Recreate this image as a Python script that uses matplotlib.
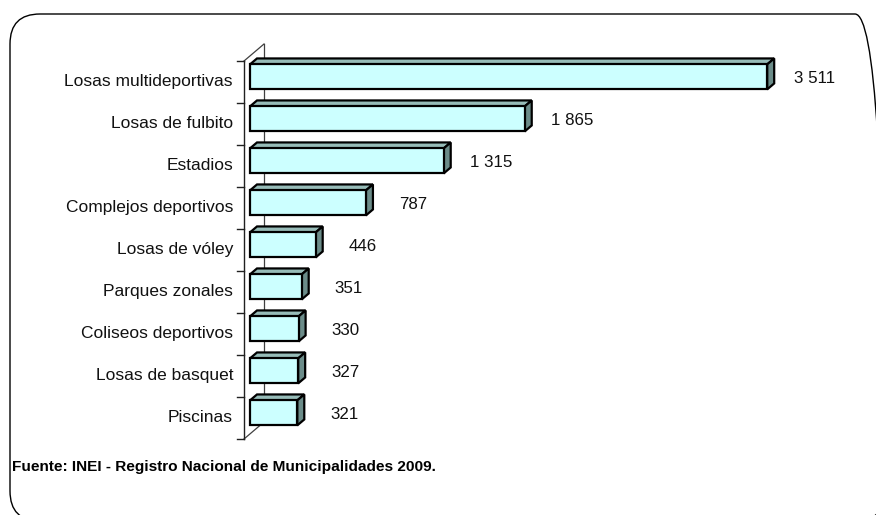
import matplotlib
matplotlib.use("Agg")
import matplotlib.pyplot as plt
from matplotlib.patches import Polygon, FancyBboxPatch

categories = ["Losas multideportivas", "Losas de fulbito", "Estadios",
              "Complejos deportivos", "Losas de vóley", "Parques zonales",
              "Coliseos deportivos", "Losas de basquet", "Piscinas"]
values = [3511, 1865, 1315, 787, 446, 351, 330, 327, 321]
value_labels = ["3 511", "1 865", "1 315", "787", "446", "351", "330", "327", "321"]
source = "Fuente: INEI - Registro Nacional de Municipalidades 2009."

FRONT = "#CCFFFF"
TOP = "#97BCB8"
SIDE = "#6B8C89"

plt.rcParams['font.family'] = ['Liberation Sans', 'DejaVu Sans']

W, H, DPI = 876, 515, 100
fig = plt.figure(figsize=(W / DPI, H / DPI), dpi=DPI)

# plot area in pixels (front plane of the 3D box)
left_px, right_px, top_px, bot_px = 244, 854, 61, 439
ax = fig.add_axes([left_px / W, 1 - bot_px / H, (right_px - left_px) / W, (bot_px - top_px) / H])
n = len(categories)
xmax = 4141
ax.set_xlim(0, xmax)
ax.set_ylim(n - 0.5, -0.5)
ax.axis("off")

sx = (right_px - left_px) / xmax          # px per value unit
sy = (bot_px - top_px) / n                # px per category
DX, DY = 20 / sx, 17 / sy                 # full depth of the 3D wall (data units)
f0, f1 = 0.3, 0.65                        # bar depth range
bar_h = 25 / sy

# walls / axis
wall = dict(color="#404040", lw=0.9, zorder=1, clip_on=False)
ax.plot([DX, DX], [-0.5 - DY, n - 0.5 - DY], **wall)
ax.plot([0, DX], [-0.5, -0.5 - DY], **wall)
ax.plot([0, DX], [n - 0.5, n - 0.5 - DY], **wall)
ax.plot([0, 0], [-0.5, n - 0.5], color="#202020", lw=1.0, zorder=1, clip_on=False)
for k in range(n + 1):
    ax.plot([-7 / sx, 0], [k - 0.5, k - 0.5], color="#202020", lw=1.0, clip_on=False)

for i, (v, lab) in enumerate(zip(values, value_labels)):
    x0 = f0 * DX
    x1 = x0 + v
    yc = i - f0 * DY
    yt, yb = yc - bar_h / 2, yc + bar_h / 2
    ddx, ddy = (f1 - f0) * DX, (f1 - f0) * DY
    kw = dict(ec="black", lw=1.6, joinstyle="miter", zorder=3, clip_on=False)
    ax.add_patch(Polygon([(x0, yt), (x1, yt), (x1 + ddx, yt - ddy), (x0 + ddx, yt - ddy)], fc=TOP, **kw))
    ax.add_patch(Polygon([(x1, yt), (x1, yb), (x1 + ddx, yb - ddy), (x1 + ddx, yt - ddy)], fc=SIDE, **kw))
    ax.add_patch(Polygon([(x0, yt), (x1, yt), (x1, yb), (x0, yb)], fc=FRONT, **kw))
    ax.text(x1 + ddx + 40 / sx, yc + 0.03, lab, ha="center", va="center", fontsize=12.2, color="#111111")
    ax.text(-11 / sx, i - 0.02, categories[i], ha="right", va="center", fontsize=12.5, color="#111111")

fig.text(12 / W, 1 - 467 / H, source, ha="left", va="center", fontsize=11.1,
         fontweight="bold", color="black")

frame = FancyBboxPatch((0.10, -0.06), 8.75, 5.07, boxstyle="round,pad=0,rounding_size=0.3",
                       transform=fig.dpi_scale_trans, fc="none", ec="black", lw=1.0)
fig.add_artist(frame)

fig.savefig("out.png", dpi=DPI)
